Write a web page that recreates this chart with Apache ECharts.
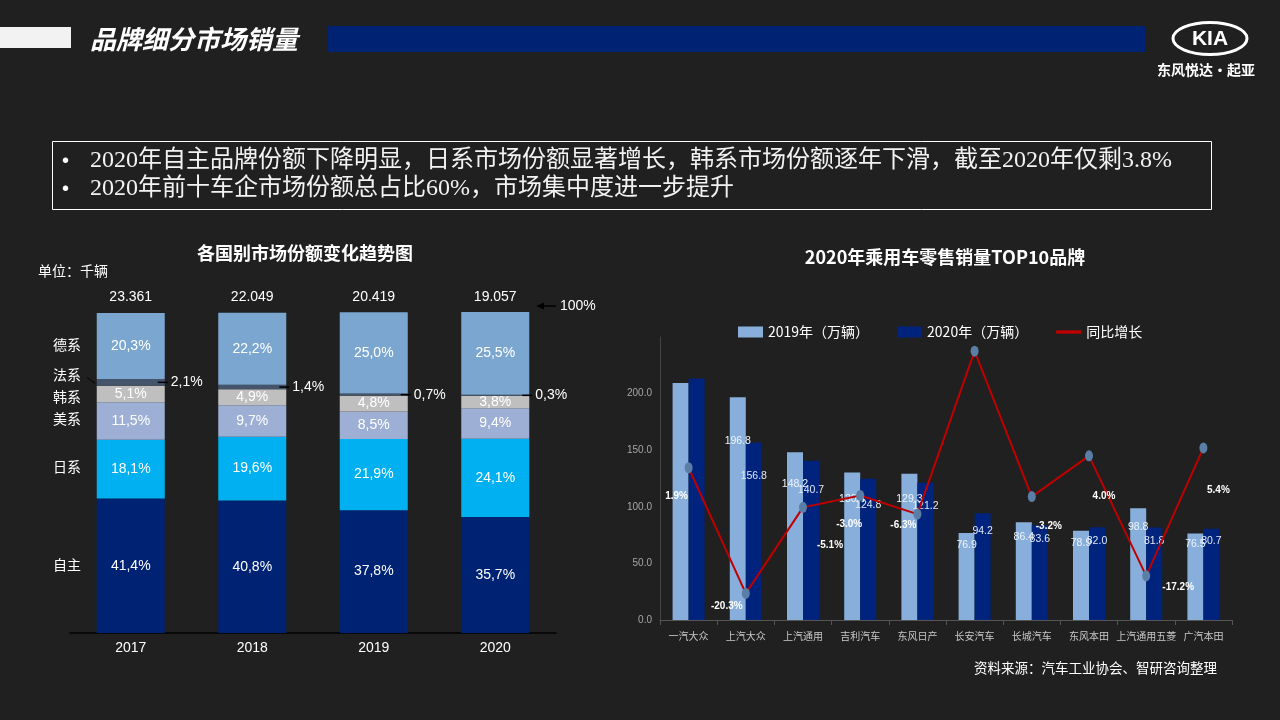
<!DOCTYPE html>
<html><head><meta charset="utf-8">
<script src="https://cdn.jsdelivr.net/npm/echarts@6/dist/echarts.min.js"></script>
<style>html,body{margin:0;padding:0;background:#202020;}#c{width:1280px;height:720px;}</style>
</head><body><div id="c"></div>
<script>
// ---- left chart data ----
const years = ['2017', '2018', '2019', '2020'];
const yearTotals = ['23.361', '22.049', '20.419', '19.057'];
const shareNames = ['自主', '日系', '美系', '韩系', '法系', '德系'];
const shareZizhu = [41.4, 40.8, 37.8, 35.7];
const shareRi = [18.1, 19.6, 21.9, 24.1];
const shareMei = [11.5, 9.7, 8.5, 9.4];
const shareHan = [5.1, 4.9, 4.8, 3.8];
const shareFa = [2.1, 1.4, 0.7, 0.3];
const shareDe = [20.3, 22.2, 25.0, 25.5];
const totalLabel = '100%';

// ---- right chart data ----
const brands = ['一汽大众', '上汽大众', '上汽通用', '吉利汽车', '东风日产', '长安汽车', '长城汽车', '东风本田', '上汽通用五菱', '广汽本田'];
const sales2019 = [209.3, 196.8, 148.2, 130.4, 129.3, 76.9, 86.4, 78.9, 98.8, 76.5];
const sales2020 = [213.3, 156.8, 140.7, 124.8, 121.2, 94.2, 83.6, 82.0, 81.8, 80.7];
const growth = [1.9, -20.3, -5.1, -3.0, -6.3, 22.5, -3.2, 4.0, -17.2, 5.4];
const seriesNames = ['2019年（万辆）', '2020年（万辆）', '同比增长'];

// ---- styling (not data) ----
const shareColors = ['#002273', '#00b0f0', '#9dafd4', '#bfbfbf', '#44546a', '#7aa6d0'];
const nameOffsets = [-1.5, -2.5, -2, 3, -8, -1.5];
const salesLabelShown = [false, true, true, true, true, true, true, true, true, true];
const labelDrop2019 = [0, 43, 31, 26, 25, 12, 14, 12, 18, 10];
const labelDrop2020 = [0, 33, 29, 26, 23, 17, 13, 13, 13, 12];
const growthLabelOffsets = [[-12, 29], [-19, 13], [27, 38], [-11, 29], [-14, 11], null, [17, 30], [15, 40], [32, 11], [15, 42]];

const SANS = "'Liberation Sans', 'Noto Sans CJK SC', sans-serif";
const CJK = "'Noto Sans CJK SC', 'Liberation Sans', sans-serif";
const NARROW = "'Liberation Sans Narrow', 'Liberation Sans', sans-serif";

const shareArrays = [shareZizhu, shareRi, shareMei, shareHan, shareFa, shareDe];
const sums = years.map((_, i) => shareArrays.reduce((s, a) => s + a[i], 0));
const shareMax = Math.max(...sums);
const fmtComma = v => v.toFixed(1).replace('.', ',') + '%';

const leftSeries = shareArrays.map((arr, si) => {
  const isFa = shareNames[si] === '法系';
  return {
    name: shareNames[si], type: 'bar', stack: 'share', xAxisIndex: 0, yAxisIndex: 0,
    barWidth: 68, data: arr, itemStyle: { color: shareColors[si] },
    label: isFa ? {
      show: true, position: 'right', distance: -7,
      formatter: p => '{l| }{v|' + fmtComma(p.value) + '}',
      rich: { l: { width: 10, height: 1.5, backgroundColor: '#000' },
              v: { color: '#fff', fontSize: 14, fontFamily: SANS, padding: [0, 0, 0, 3] } }
    } : {
      show: true, position: 'inside', color: '#fff', fontSize: 14, fontFamily: SANS,
      formatter: p => fmtComma(p.value)
    },
    emphasis: { disabled: true }, animation: false
  };
});

const barData = (vals, drops) => vals.map((v, i) => ({
  value: v,
  label: { show: salesLabelShown[i], distance: Math.max(drops[i] - 5, 1) }
}));

const option = {
  backgroundColor: '#202020',
  animation: false,
  textStyle: { fontFamily: SANS },
  legend: {
    left: 733, top: 320, itemWidth: 25, itemHeight: 11, itemGap: 28,
    textStyle: { color: '#fff', fontSize: 14, fontFamily: CJK },
    data: [
      { name: seriesNames[0], icon: 'rect' },
      { name: seriesNames[1], icon: 'rect' },
      { name: seriesNames[2], icon: 'path://M0,0 L30,0 L30,4 L0,4 Z', itemStyle: { color: '#c00000' } }
    ]
  },
  grid: [
    { left: 70, right: 724, top: 312, bottom: 87 },
    { left: 660, right: 48, top: 337, bottom: 100 }
  ],
  xAxis: [
    { type: 'category', gridIndex: 0, data: years, position: 'bottom',
      axisLine: { lineStyle: { color: '#000', width: 1.5 } }, axisTick: { show: false },
      axisLabel: { color: '#fff', fontSize: 14, margin: 8, fontFamily: SANS } },
    { type: 'category', gridIndex: 0, data: yearTotals, position: 'top',
      axisLine: { show: false }, axisTick: { show: false },
      axisLabel: { color: '#fff', fontSize: 14, margin: 8, fontFamily: SANS } },
    { type: 'category', gridIndex: 1, data: brands,
      axisLine: { lineStyle: { color: '#555' } },
      axisTick: { show: true, length: 5, lineStyle: { color: '#555' } },
      axisLabel: { color: '#c8c8c8', fontSize: 10, margin: 11, fontFamily: CJK, interval: 0 } }
  ],
  yAxis: [
    { type: 'value', gridIndex: 0, min: 0, max: shareMax, show: false },
    { type: 'value', gridIndex: 1, min: 0, max: 250, interval: 50,
      axisLine: { show: true, lineStyle: { color: '#444' } }, axisTick: { show: false },
      splitLine: { show: false },
      axisLabel: { color: '#a6a6a6', fontSize: 10, showMaxLabel: false, formatter: v => v.toFixed(1), margin: 8 } },
    { type: 'value', gridIndex: 1, min: -25, max: 25, show: false }
  ],
  series: leftSeries.concat([
    { name: seriesNames[0], type: 'bar', xAxisIndex: 2, yAxisIndex: 1, barWidth: 16, barGap: '0%',
      itemStyle: { color: '#88afdb' },
      data: barData(sales2019, labelDrop2019),
      label: { position: 'insideTop', color: '#eef3fa', fontSize: 10.5, fontFamily: NARROW,
               formatter: p => p.value.toFixed(1) } },
    { name: seriesNames[1], type: 'bar', xAxisIndex: 2, yAxisIndex: 1, barWidth: 16, barGap: '0%',
      itemStyle: { color: '#00237d' },
      data: barData(sales2020, labelDrop2020),
      label: { position: 'insideTop', color: '#dfe8f5', fontSize: 10.5, fontFamily: NARROW,
               formatter: p => p.value.toFixed(1) } },
    { name: seriesNames[2], type: 'line', xAxisIndex: 2, yAxisIndex: 2, z: 5,
      symbol: 'circle', symbolSize: [8, 11],
      lineStyle: { color: '#c00000', width: 2 }, itemStyle: { color: '#5b7ea6' },
      data: growth.map((v, i) => ({ value: v, label: growthLabelOffsets[i] ? { show: true, offset: growthLabelOffsets[i] } : { show: false } })),
      label: { position: 'inside', color: '#fff', fontWeight: 'bold', fontSize: 10, fontFamily: NARROW,
               formatter: p => p.value.toFixed(1) + '%' } }
  ])
};

const chart = echarts.init(document.getElementById('c'), null, { renderer: 'canvas' });
chart.setOption(option);

// static texts and decorations
const g = [
  { type: 'rect', shape: { x: 0, y: 27, width: 71, height: 21 }, style: { fill: '#f2f2f2' } },
  { type: 'text', x: 90, y: 39, style: { text: '品牌细分市场销量', fill: '#fff', font: 'italic bold 26px ' + CJK, textVerticalAlign: 'middle' } },
  { type: 'rect', shape: { x: 328, y: 26, width: 818, height: 26 }, style: { fill: '#002273' } },
  { type: 'ellipse', shape: { cx: 1210, cy: 38.5, rx: 37, ry: 16 }, style: { fill: 'none', stroke: '#fff', lineWidth: 3 } },
  { type: 'text', x: 1210, y: 39, style: { text: 'KIA', fill: '#fff', font: 'bold 21px ' + SANS, textAlign: 'center', textVerticalAlign: 'middle' } },
  { type: 'text', x: 1206, y: 70, style: { text: '东风悦达·起亚', fill: '#fff', font: 'bold 14px ' + CJK, textAlign: 'center', textVerticalAlign: 'middle' } },
  { type: 'rect', shape: { x: 52.5, y: 141.5, width: 1159, height: 68 }, style: { fill: 'none', stroke: '#fff', lineWidth: 1 } },
  { type: 'text', x: 62, y: 161, style: { text: '•', fill: '#fff', font: '20px ' + SANS, textVerticalAlign: 'middle' } },
  { type: 'text', x: 90, y: 161, style: { text: '2020年自主品牌份额下降明显，日系市场份额显著增长，韩系市场份额逐年下滑，截至2020年仅剩3.8%', fill: '#f2f2f2', font: "24px 'Liberation Serif', 'Noto Sans CJK SC'", textVerticalAlign: 'middle' } },
  { type: 'text', x: 62, y: 189, style: { text: '•', fill: '#fff', font: '20px ' + SANS, textVerticalAlign: 'middle' } },
  { type: 'text', x: 90, y: 189, style: { text: '2020年前十车企市场份额总占比60%，市场集中度进一步提升', fill: '#f2f2f2', font: "24px 'Liberation Serif', 'Noto Sans CJK SC'", textVerticalAlign: 'middle' } },
  { type: 'text', x: 305, y: 253, style: { text: '各国别市场份额变化趋势图', fill: '#fff', font: 'bold 18px ' + CJK, textAlign: 'center', textVerticalAlign: 'middle' } },
  { type: 'text', x: 38, y: 271, style: { text: '单位：千辆', fill: '#fff', font: '14px ' + CJK, textVerticalAlign: 'middle' } },
  { type: 'text', x: 945, y: 257, style: { text: '2020年乘用车零售销量TOP10品牌', fill: '#fff', font: 'bold 18px ' + CJK, textAlign: 'center', textVerticalAlign: 'middle' } },
  { type: 'text', x: 1217, y: 668, style: { text: '资料来源：汽车工业协会、智研咨询整理', fill: '#fff', font: '13.5px ' + CJK, textAlign: 'right', textVerticalAlign: 'middle' } }
];

// category-name labels at the left of the first bar, placed through the axis scale
let cum = 0;
shareArrays.forEach((arr, si) => {
  const mid = cum + arr[0] / 2; cum += arr[0];
  const p = chart.convertToPixel({ xAxisIndex: 0, yAxisIndex: 0 }, [0, mid]);
  const y = p[1] + nameOffsets[si];
  g.push({ type: 'text', x: 53, y: y, style: { text: shareNames[si], fill: '#fff', font: '14px ' + CJK, textVerticalAlign: 'middle' } });
  if (shareNames[si] === '法系') {
    g.push({ type: 'line', shape: { x1: 87, y1: p[1] - 5, x2: 95, y2: p[1] + 1 }, style: { stroke: '#000', lineWidth: 1 } });
  }
});
// 100% marker at the top of the last bar
const lastIdx = years.length - 1;
const topPx = chart.convertToPixel({ xAxisIndex: 0, yAxisIndex: 0 }, [lastIdx, sums[lastIdx]]);
const ay = topPx[1] - 6;
g.push({ type: 'line', shape: { x1: 543, y1: ay, x2: 556, y2: ay }, style: { stroke: '#000', lineWidth: 1.5 } });
g.push({ type: 'polygon', shape: { points: [[536, ay], [544, ay - 3.5], [544, ay + 3.5]] }, style: { fill: '#000' } });
g.push({ type: 'text', x: 560, y: ay, style: { text: totalLabel, fill: '#fff', font: '14px ' + SANS, textVerticalAlign: 'middle' } });

chart.setOption({ graphic: g });
</script>
</body></html>
